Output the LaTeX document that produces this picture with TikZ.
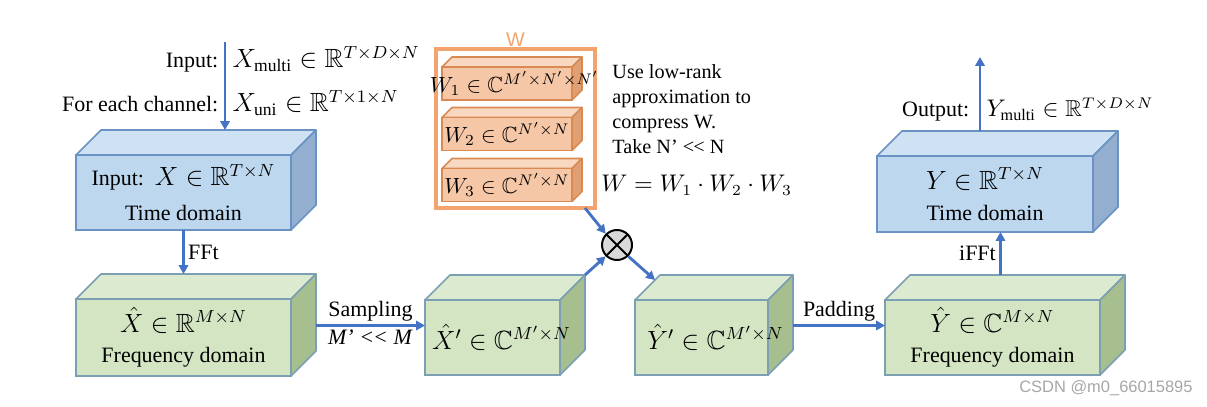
\documentclass[tikz,border=0pt]{standalone}
\usepackage{amsmath,amssymb}
\usepackage{fontspec}
\setmainfont{Liberation Serif}
\newfontfamily\wmfont{Liberation Sans}
\usetikzlibrary{positioning,arrows.meta,calc,backgrounds}

\definecolor{arrowblue}{HTML}{4472C4}
\definecolor{blueedge}{HTML}{6A93C4}
\definecolor{bluefront}{HTML}{BDD7EE}
\definecolor{bluetopc}{HTML}{CFE2F3}
\definecolor{bluesidec}{HTML}{93AECF}
\definecolor{greenedge}{HTML}{7C9FB3}
\definecolor{greenfront}{HTML}{D3E5C3}
\definecolor{greentopc}{HTML}{DCEBCF}
\definecolor{greensidec}{HTML}{A7BF8F}
\definecolor{orangeedge}{HTML}{D98A52}
\definecolor{orangefront}{HTML}{F6C7A6}
\definecolor{orangetopc}{HTML}{F9D8C1}
\definecolor{orangesidec}{HTML}{E0A074}
\definecolor{wframe}{HTML}{F3A46E}

\newcommand{\pxu}{0.016cm}
\newlength{\pxlen}\setlength{\pxlen}{0.016cm}
\newcommand{\mth}[1]{{\large$#1$}}
\newcommand{\llt}{\textless\kern-0.4pt\textless}
% text that may run over the edge of its block, moved right by #1 px
\newcommand{\offtext}[2]{\makebox[0pt]{\hspace{#1\pxlen}#2}}
% top and side faces drawn behind a front node
\newcommand{\boxfaces}[4]{%
  \coordinate (#1-tl) at ($(#1.north west)+(#2*\pxu,#2*\pxu)$);
  \coordinate (#1-tr) at ($(#1.north east)+(#2*\pxu,#2*\pxu)$);
  \coordinate (#1-br) at ($(#1.south east)+(#2*\pxu,#2*\pxu)$);
  \begin{pgfonlayer}{background}
    \filldraw[#3] (#1.north west) -- (#1-tl) -- (#1-tr) -- (#1.north east) -- cycle;
    \filldraw[#4] (#1.north east) -- (#1-tr) -- (#1-br) -- (#1.south east) -- cycle;
  \end{pgfonlayer}}

\begin{document}
\begin{tikzpicture}[x=\pxu,y=-\pxu,>={Triangle[length=4pt,width=4.2pt]},
  flow/.style={->,draw=arrowblue,line width=1.3pt},
  lbl/.style={font=\fontsize{10}{12}\selectfont,inner sep=1.5pt},
  cube/.style={line width=0.7pt,outer sep=0pt,inner sep=0pt,align=center,font=\fontsize{10}{12}\selectfont},
  bluecube/.style={cube,draw=blueedge,fill=bluefront},
  bluetop/.style={draw=blueedge,fill=bluetopc,line width=0.7pt,line join=round},
  blueside/.style={draw=blueedge,fill=bluesidec,line width=0.7pt,line join=round},
  greencube/.style={cube,draw=greenedge,fill=greenfront},
  greentop/.style={draw=greenedge,fill=greentopc,line width=0.7pt,line join=round},
  greenside/.style={draw=greenedge,fill=greensidec,line width=0.7pt,line join=round},
  orangecube/.style={cube,draw=orangeedge,fill=orangefront},
  orangetop/.style={draw=orangeedge,fill=orangetopc,line width=0.7pt,line join=round},
  orangeside/.style={draw=orangeedge,fill=orangesidec,line width=0.7pt,line join=round}]
\useasboundingbox (0,0) rectangle (1207,407);

% time and frequency blocks
\node[bluecube,minimum width=215*\pxu,minimum height=75*\pxu] (b1) at (183.5,192.5) {Input:\enspace\mth{X\in\mathbb{R}^{T\times N}}\\[4pt]Time domain};
\boxfaces{b1}{25}{bluetop}{blueside}
\node[greencube,minimum width=215*\pxu,minimum height=77*\pxu] (b2) at (183.5,337.5) {\mth{\hat{X}\in\mathbb{R}^{M\times N}}\\[2pt]Frequency domain};
\boxfaces{b2}{25}{greentop}{greenside}
\node[greencube,minimum width=135*\pxu,minimum height=75*\pxu] (b3) at (492.5,337.5) {\offtext{18}{\mth{\hat{X}'\in\mathbb{C}^{M'\times N}}}};
\boxfaces{b3}{25}{greentop}{greenside}
\node[greencube,minimum width=133*\pxu,minimum height=75*\pxu] (b4) at (701.5,337.5) {\offtext{28}{\mth{\hat{Y}'\in\mathbb{C}^{M'\times N}}}};
\boxfaces{b4}{25}{greentop}{greenside}
\node[greencube,minimum width=215*\pxu,minimum height=75*\pxu] (b5) at (992.5,337.5) {\mth{\hat{Y}\in\mathbb{C}^{M\times N}}\\[2pt]Frequency domain};
\boxfaces{b5}{25}{greentop}{greenside}
\node[bluecube,minimum width=216*\pxu,minimum height=76*\pxu] (b6) at (985,194) {\mth{Y\in\mathbb{R}^{T\times N}}\\[2pt]Time domain};
\boxfaces{b6}{25}{bluetop}{blueside}

% weight W
\node[draw=wframe,line width=1.5pt,outer sep=0pt,minimum width=159*\pxu,minimum height=159*\pxu] (wbox) at (515.5,128.5) {};
\node[text=wframe,font=\wmfont\fontsize{9}{10}\selectfont,inner sep=1pt,above=0pt of wbox] (wname) {W};
\node[orangecube,minimum width=130*\pxu,minimum height=33*\pxu] (w1) at (507,83.5) {\offtext{15}{$W_1\in\mathbb{C}^{M'\times N'\times N'}$}};
\boxfaces{w1}{10}{orangetop}{orangeside}
\node[orangecube,minimum width=130*\pxu,minimum height=33*\pxu] (w2) at (507,134) {$W_2\in\mathbb{C}^{N'\times N}$};
\boxfaces{w2}{10}{orangetop}{orangeside}
\node[orangecube,minimum width=130*\pxu,minimum height=33*\pxu] (w3) at (507,185) {$W_3\in\mathbb{C}^{N'\times N}$};
\boxfaces{w3}{10}{orangetop}{orangeside}
\node[font=\fontsize{9.2}{11.4}\selectfont,align=left,anchor=north west,inner sep=0pt] (note) at (612,64) {Use low-rank\\approximation to\\compress W.\\Take N' \llt{} N};
\node[anchor=west,inner sep=0pt,font=\fontsize{10.5}{12}\selectfont] (weq) at (601,185) {$W=W_1\cdot W_2\cdot W_3$};
\node[circle,draw,fill=gray!30,line width=0.9pt,minimum size=30*\pxu,inner sep=0pt,
  path picture={\draw[line width=0.9pt] (path picture bounding box.north west) -- (path picture bounding box.south east)
    (path picture bounding box.north east) -- (path picture bounding box.south west);}] (mul) at (617,245) {};

% input and output
\coordinate (intop) at (225,42);
\draw[flow] (intop) -- (intop |- b1-tl);
\node[lbl,anchor=base east] (inlab) at (222,68) {Input:};
\node[lbl,anchor=base west] (inmulti) at (229,68) {\mth{X_{\mathrm{multi}}\in\mathbb{R}^{T\times D\times N}}};
\node[lbl,anchor=base east] (chlab) at (222,112) {For each channel:};
\node[lbl,anchor=base west] (inuni) at (229,112) {\mth{X_{\mathrm{uni}}\in\mathbb{R}^{T\times 1\times N}}};
\coordinate (outtop) at (980,57);
\draw[flow] (outtop |- b6-tl) -- (outtop);
\node[lbl,anchor=base east] (outlab) at (973,117) {Output:};
\node[lbl,anchor=base west] (outmulti) at (983,117) {{\fontsize{10.5}{12}\selectfont$Y_{\mathrm{multi}}\in\mathbb{R}^{T\times D\times N}$}};

% connectors
\draw[flow] (b1.south) -- (b1.south |- b2-tl) node[midway,right,lbl] {FFt};
\draw[flow] ([shift={(25*\pxu,12*\pxu)}]b2.east) -- ([yshift=12*\pxu]b3.west)
  node[midway,above,lbl] {Sampling} node[midway,below,lbl] {\textit{M' \llt{} M}};
\draw[flow] (b3-tr) -- (mul.south west);
\draw[flow] ([xshift=-10*\pxu]wbox.south east) -- (mul.north west);
\draw[flow] (mul.south east) -- ($(b4.north west)!0.8!(b4-tl)$);
\draw[flow] ([shift={(25*\pxu,12*\pxu)}]b4.east) -- ([yshift=12*\pxu]b5.west) node[midway,above,lbl] {Padding};
\coordinate (ifft) at ($(b5.north)+(8*\pxu,0)$);
\draw[flow] (ifft |- b5-tl) -- (ifft |- b6.south) node[midway,left,lbl] {iFFt};

\node[font=\wmfont\fontsize{7.5}{9}\selectfont,text=gray!70,anchor=east,inner sep=0pt] (wmark) at (1193,388) {CSDN @m0\_66015895};
\end{tikzpicture}
\end{document}
